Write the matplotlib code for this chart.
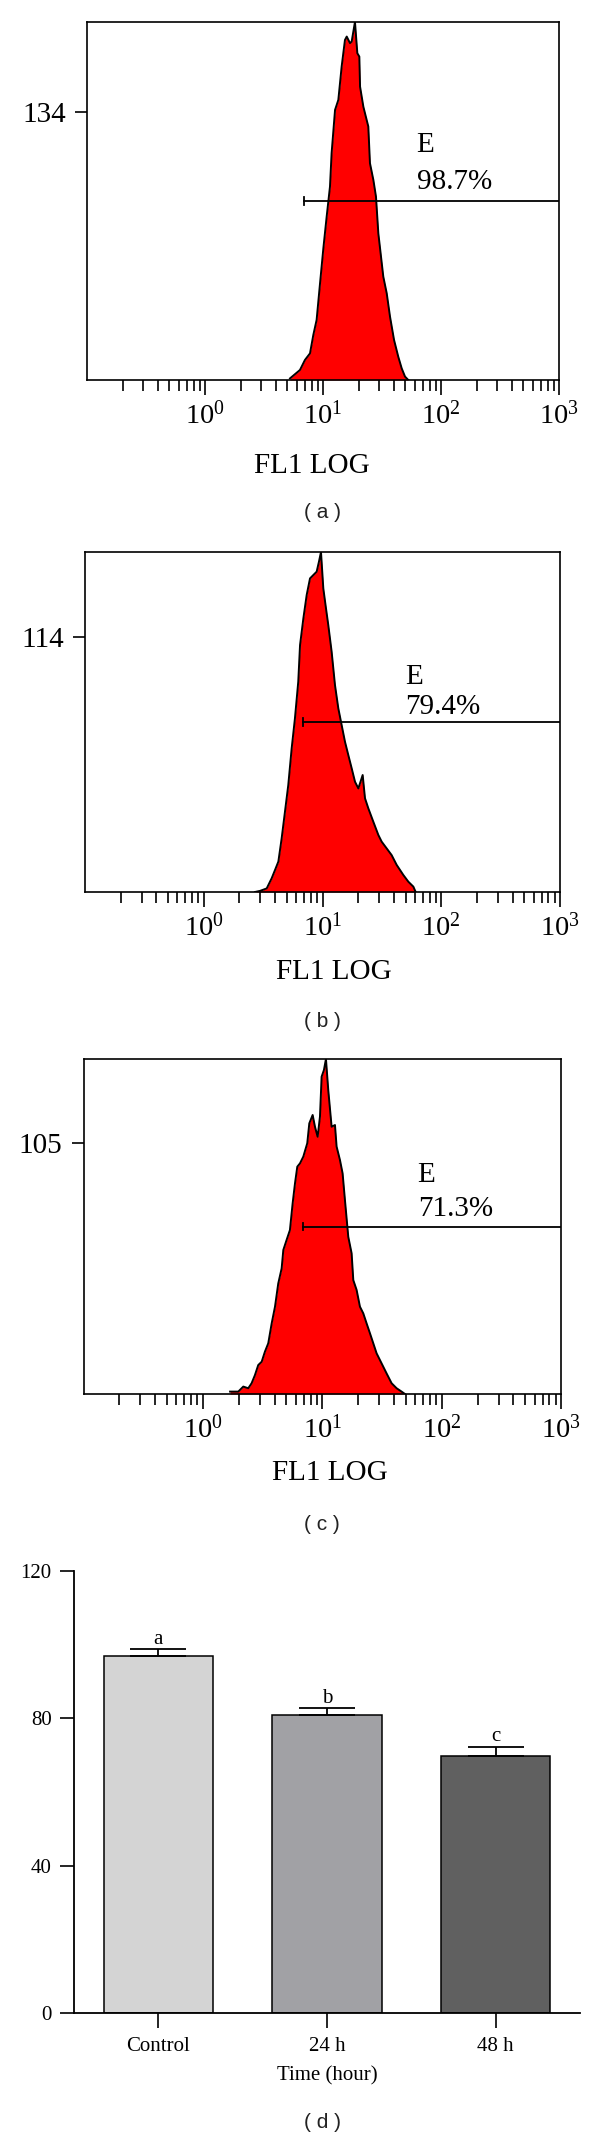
import matplotlib
matplotlib.use('Agg')
import matplotlib.pyplot as plt
import numpy as np
from matplotlib.ticker import LogLocator, NullFormatter

plt.rcParams['font.family'] = 'Liberation Serif'
plt.rcParams['mathtext.fontset'] = 'custom'
plt.rcParams['mathtext.rm'] = 'Liberation Serif'
plt.rcParams['mathtext.it'] = 'Liberation Serif:italic'

# ---- data ----
# (a) control histogram: FL1 value vs count
fl1_a = [5.25, 6.38, 7.03, 7.76, 8.28, 8.83, 9.44, 10.07, 10.74, 11.46, 11.83, 12.65,
         13.49, 14.39, 15.35, 15.89, 16.94, 17.50, 18.66, 19.54, 20.32, 20.61, 21.98,
         24.21, 25.00, 26.73, 28.12, 29.44, 32.43, 34.67, 36.98, 40.0, 43.45, 46.45,
         49.55, 52.84]
counts_a = [0.8, 5.0, 10.0, 13.3, 22.5, 30.0, 48.3, 65.7, 81.5, 96.5, 113.2, 134.8,
            139.8, 156.4, 169.7, 171.4, 168.1, 168.9, 178.7, 163.1, 161.4, 146.4, 136.4,
            126.5, 108.2, 99.8, 91.5, 73.2, 51.6, 43.3, 31.6, 20.0, 11.6, 5.8, 1.7, 0.0]

# (b) 24 h histogram
fl1_b = [2.70, 2.98, 3.39, 3.73, 3.98, 4.25, 4.53, 4.83, 5.15, 5.50, 5.86, 6.25, 6.47,
         6.90, 7.36, 7.85, 8.37, 8.93, 9.34, 9.71, 10.16, 10.70, 11.19, 11.94, 12.74,
         13.59, 14.50, 15.46, 16.50, 17.61, 18.78, 20.04, 21.79, 22.80, 24.32, 26.80,
         29.53, 31.50, 34.70, 38.21, 42.14, 47.95, 52.84, 58.22, 60.9]
counts_b = [0.0, 0.5, 1.6, 6.1, 9.8, 13.6, 24.0, 35.9, 47.8, 64.2, 77.6, 94.0, 110.4,
            122.3, 132.8, 140.2, 141.7, 143.2, 147.7, 152.0, 135.7, 126.8, 119.3, 107.4,
            92.5, 82.1, 74.6, 67.2, 61.2, 55.3, 49.3, 46.3, 52.3, 41.9, 37.4, 31.4, 25.5,
            22.5, 19.5, 16.5, 12.1, 7.6, 4.6, 2.4, 0.0]

# (c) 48 h histogram
fl1_c = [1.69, 1.98, 2.18, 2.40, 2.56, 2.73, 2.91, 3.11, 3.31, 3.53, 3.77, 4.02, 4.28,
         4.57, 4.72, 5.03, 5.36, 5.65, 5.91, 6.18, 6.51, 6.94, 7.49, 7.79, 8.31, 8.69,
         9.15, 9.57, 9.88, 10.33, 10.74, 11.23, 11.98, 12.78, 13.19, 14.07, 14.81, 15.49,
         16.52, 17.62, 18.20, 19.40, 20.69, 22.07, 23.53, 25.09, 26.76, 28.53, 31.42,
         34.60, 38.11, 41.98, 46.21, 49.29]
counts_c = [1.0, 1.0, 3.1, 2.4, 4.5, 7.9, 12.1, 13.5, 17.7, 21.2, 29.5, 36.5, 46.2,
            52.5, 60.2, 64.4, 68.5, 79.7, 88.0, 95.0, 96.4, 99.2, 104.8, 113.1, 116.6,
            111.7, 107.5, 115.9, 132.6, 135.4, 140.0, 127.0, 111.7, 112.4, 103.4, 97.8,
            92.2, 81.1, 65.7, 58.8, 47.6, 43.5, 36.5, 33.7, 29.5, 25.4, 21.2, 17.0, 12.8,
            8.6, 4.5, 2.4, 1.0, 0.0]

y_ticks = [134, 114, 105]
gate_start = [6.9, 6.9, 6.9]
gate_pct = ['98.7%', '79.4%', '71.3%']
e_xpos = [62, 50, 63]

# (d) bar chart
groups = ['Control', '24 h', '48 h']
means = [97.0, 80.9, 69.9]
errs = [1.7, 1.8, 2.4]
letters = ['a', 'b', 'c']
bar_colors = ['#d4d4d4', '#a1a1a5', '#606060']

# ---- layout (pixels) ----
W, H = 600, 2140
fig = plt.figure(figsize=(W / 100, H / 100), dpi=100)


def rect(l, t, r, b):
    return [l / W, 1 - b / H, (r - l) / W, (b - t) / H]


def ftext(x, y, s, **kw):
    fig.text(x / W, 1 - y / H, s, **kw)


hist_boxes = [(87, 22, 559, 380), (85, 552, 560, 892), (83.5, 1059, 561, 1394)]
e_frac = [(0.656, 0.553), (0.633, 0.543), (0.654, 0.551)]
xlab_pos = [(312, 466), (334, 972), (330, 1473)]
panel_pos = [(322, 512), (322, 1021), (322, 1524)]
hist_data = [(fl1_a, counts_a), (fl1_b, counts_b), (fl1_c, counts_c)]

for i, (box, (fl1, cnt)) in enumerate(zip(hist_boxes, hist_data)):
    l, t, r, b = box
    ax = fig.add_axes(rect(l, t, r, b))
    ymax = y_ticks[i] * 4 / 3
    ax.fill_between(fl1, cnt, 0, color='#ff0000', lw=0)
    ax.plot(fl1, cnt, color='black', lw=1.4)
    ax.set_xscale('log')
    ax.set_xlim(0.1, 1000)
    ax.set_ylim(0, ymax)
    ax.set_xticks([1, 10, 100, 1000])
    ax.set_xticklabels([r'$\mathrm{10^{%d}}$' % k for k in range(4)], fontsize=20.5)
    ax.xaxis.set_minor_locator(LogLocator(base=10, subs=np.arange(2, 10), numticks=20))
    ax.xaxis.set_minor_formatter(NullFormatter())
    ax.tick_params(axis='x', which='major', length=11, width=1.2, pad=4)
    ax.tick_params(axis='x', which='minor', length=8, width=1.2)
    ax.set_yticks([y_ticks[i]])
    ax.set_yticklabels([str(y_ticks[i])], fontsize=21)
    ax.tick_params(axis='y', length=9, width=1.2, pad=6)
    for s in ax.spines.values():
        s.set_linewidth(1.2)

    # gate marker
    tr = ax.get_xaxis_transform()
    ax.plot([gate_start[i], 1000], [0.5, 0.5], color='black', lw=1.3, transform=tr)
    ax.plot([gate_start[i]] * 2, [0.489, 0.511], color='black', lw=1.3, transform=tr)
    ax.text(e_xpos[i], e_frac[i][0], 'E', transform=tr, fontsize=21, ha='left', va='center')
    ax.text(e_xpos[i], e_frac[i][1], gate_pct[i], transform=tr, fontsize=21,
            ha='left', va='center')

    ax.set_xlabel('FL1 LOG', fontsize=21)
    ax.xaxis.set_label_coords((xlab_pos[i][0] - l) / (r - l), -(xlab_pos[i][1] - b) / (b - t))
    ax.xaxis.label.set_va('center')
    ftext(panel_pos[i][0], panel_pos[i][1], '( %s )' % 'abc'[i], family='Liberation Sans',
          fontsize=15, ha='center', va='center', color='#222222')

# ---- (d) bar chart ----
l, t, r, b = 74, 1571, 580, 2013
ax = fig.add_axes(rect(l, t, r, b))
x = np.arange(len(groups))
ax.bar(x, means, width=0.65, color=bar_colors, edgecolor='black', lw=1.1, zorder=2)
ax.errorbar(x, means, yerr=[np.zeros(len(errs)), errs], fmt='none', ecolor='black',
            elinewidth=1.3, capsize=20.5, capthick=1.3, zorder=3)
for i in range(len(groups)):
    ax.text(x[i], means[i] + errs[i] + 1.5, letters[i], ha='center', va='baseline', fontsize=15)
ax.set_xlim(-0.5, 2.5)
ax.set_ylim(0, 120)
ax.set_yticks([0, 40, 80, 120])
ax.set_xticks(x)
ax.set_xticklabels(groups, fontsize=15)
ax.tick_params(axis='y', labelsize=15, length=10, width=1.2, pad=6)
ax.tick_params(axis='x', length=11, width=1.2, pad=6)
for s in ['top', 'right']:
    ax.spines[s].set_visible(False)
for s in ['left', 'bottom']:
    ax.spines[s].set_linewidth(1.3)
ax.set_xlabel('Time (hour)', fontsize=15)
ax.xaxis.set_label_coords((327 - l) / (r - l), -(2076 - b) / (b - t))
ax.xaxis.label.set_va('center')
ftext(322, 2123, '( d )', family='Liberation Sans', fontsize=15, ha='center', va='center',
      color='#222222')

fig.savefig('out.png', dpi=100)
